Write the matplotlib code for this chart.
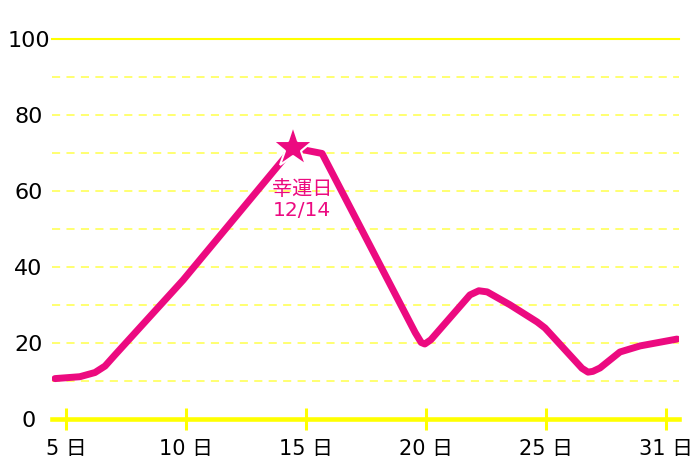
import matplotlib
matplotlib.use("Agg")
import matplotlib.pyplot as plt
import numpy as np

plt.rcParams['font.family'] = ['DejaVu Sans', 'Noto Sans CJK JP']

# data (x in day-axis units, y in value units)
days = [4.54, 5.58, 6.21, 6.63, 7.04, 9.88, 14.46, 15.67, 19.55, 19.80, 19.95, 20.20,
        21.83, 22.20, 22.55, 23.50, 24.63, 24.96, 26.50, 26.75, 26.95, 27.25, 28.08, 28.92, 30.46]
values = [10.7, 11.2, 12.3, 14.0, 16.9, 36.6, 71.4, 69.9, 22.8, 20.2, 19.8, 20.9,
          32.7, 33.8, 33.5, 30.1, 25.6, 24.0, 13.4, 12.4, 12.6, 13.5, 17.7, 19.3, 21.1]
lucky_day = 14.46
lucky_value = 71.4
lucky_text = "幸運日\n12/14"

x_ticks = [5, 10, 15, 20, 25, 30]
x_labels = ["5 日", "10 日", "15 日", "20 日", "25 日", "31 日"]
y_ticks = [0, 20, 40, 60, 80, 100]
y_grid = [10, 20, 30, 40, 50, 60, 70, 80, 90]

PINK = '#ec0a80'
YELLOW = '#ffff00'
PALE = '#ffff66'

fig = plt.figure(figsize=(7, 4.67), dpi=100)
ax = fig.add_axes([52/700, (467-419.3)/467, (679-52)/700, (419.3-39)/467])
ax.set_xlim(4.42, 30.54)
ax.set_ylim(0, 100)

for g in y_grid:
    ax.axhline(g, color=PALE, lw=1.3, ls=(0, (4.5, 3.5)), zorder=1)
ax.axhline(100, color=YELLOW, lw=1.5, zorder=1, clip_on=False)

for s in ['top', 'left', 'right']:
    ax.spines[s].set_visible(False)
ax.spines['bottom'].set_color(YELLOW)
ax.spines['bottom'].set_linewidth(3.3)

ax.plot(days, values, color=PINK, lw=5, solid_capstyle='round',
        solid_joinstyle='round', zorder=3)
ax.plot([lucky_day], [lucky_value], marker='*', ms=31, color=PINK,
        mec='white', mew=1.5, zorder=4, clip_on=False)
ax.annotate(lucky_text, (lucky_day, lucky_value), xytext=(6.5, -37.4),
            textcoords='offset points', ha='center', va='center',
            color=PINK, fontsize=14.5, linespacing=1.12, zorder=5)

ax.set_xticks(x_ticks)
ax.set_xticklabels(x_labels, fontsize=15)
ax.tick_params(axis='x', direction='inout', length=16, width=2.2,
               color=YELLOW, pad=6)
ax.set_yticks(y_ticks)
ax.set_yticklabels([str(v) for v in y_ticks], fontsize=16)
ax.tick_params(axis='y', length=0, pad=17)
for lab in ax.get_yticklabels():
    lab.set_horizontalalignment('center')

fig.savefig('out.png', dpi=100)
